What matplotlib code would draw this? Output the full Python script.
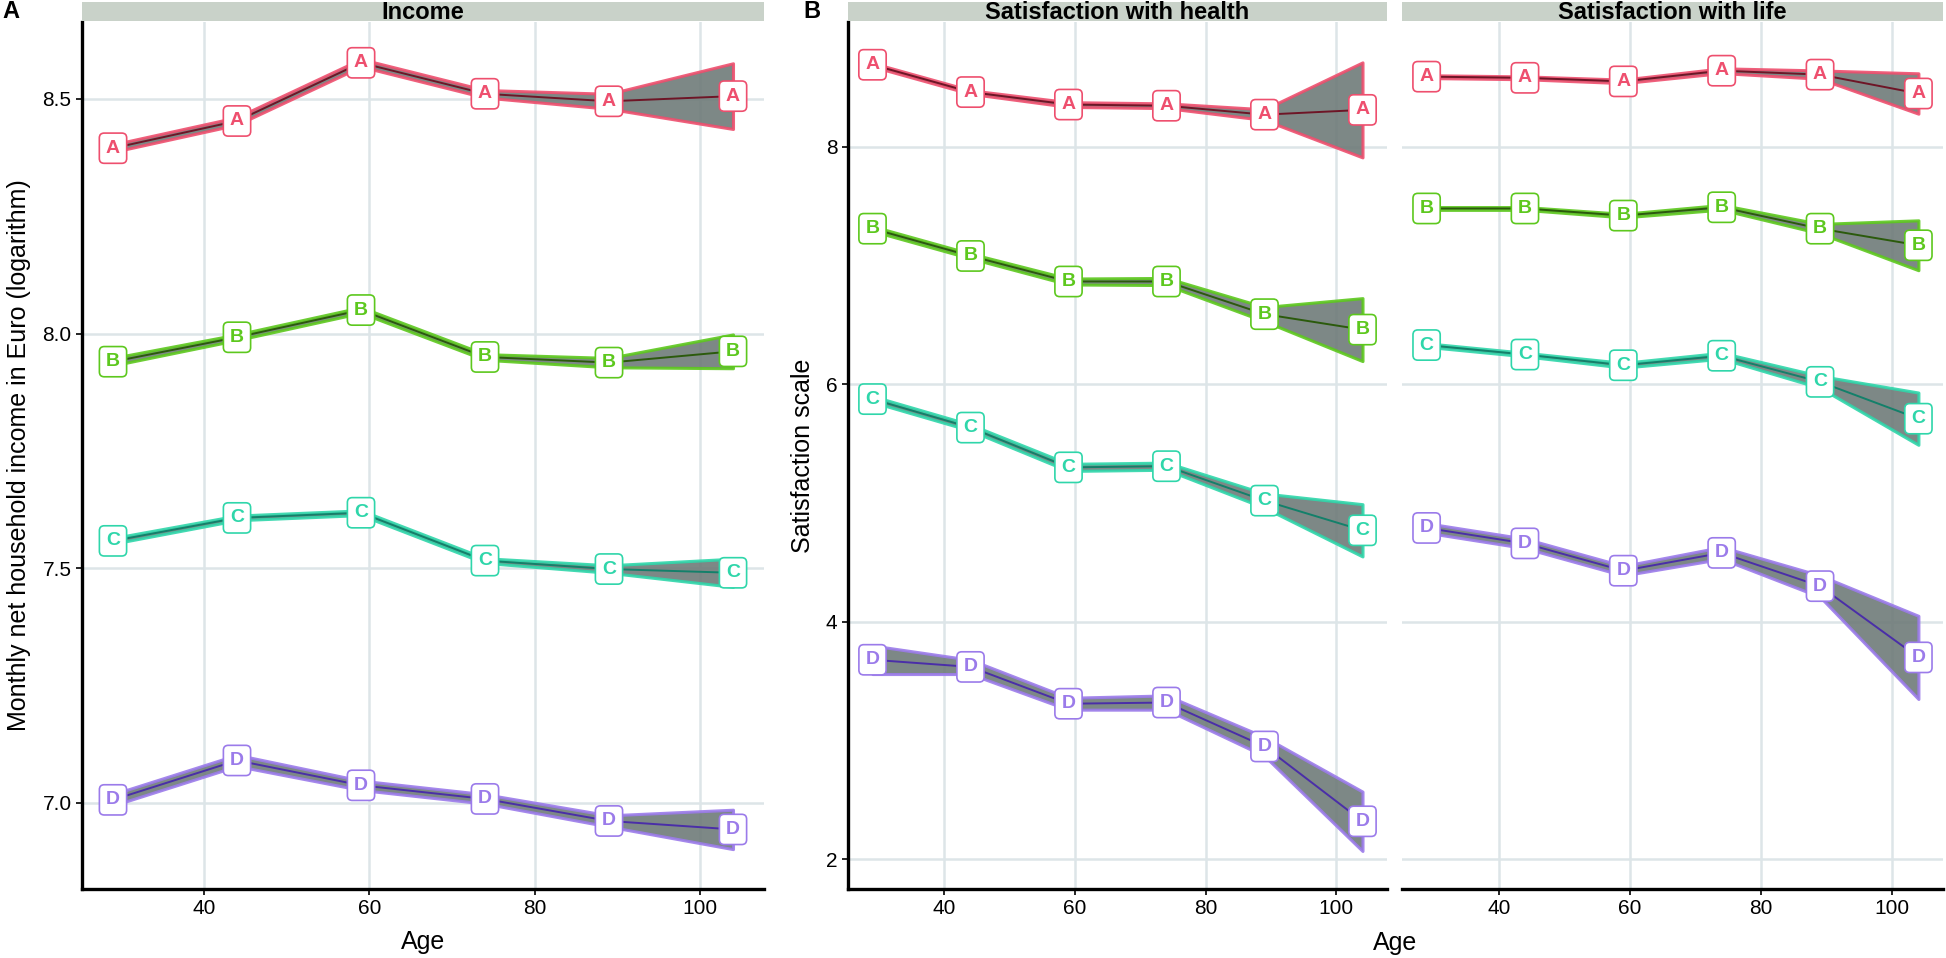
import matplotlib
matplotlib.use("Agg")
import matplotlib.pyplot as plt
from matplotlib.patches import Rectangle

plt.rcParams['font.family'] = ['Liberation Sans Narrow', 'Liberation Sans', 'DejaVu Sans']

# ---------------- data ----------------
ages = [29, 44, 59, 74, 89, 104]
groups = ["A", "B", "C", "D"]

# Income (log)
inc_A = [8.395, 8.453, 8.577, 8.511, 8.495, 8.506]
inc_B = [7.940, 7.992, 8.050, 7.950, 7.938, 7.962]
inc_C = [7.558, 7.607, 7.618, 7.516, 7.498, 7.490]
inc_D = [7.006, 7.090, 7.037, 7.008, 6.961, 6.943]
inc_A_ci = [0.008, 0.008, 0.008, 0.008, 0.016, 0.070]
inc_B_ci = [0.008, 0.006, 0.006, 0.006, 0.010, 0.036]
inc_C_ci = [0.006, 0.005, 0.005, 0.005, 0.008, 0.030]
inc_D_ci = [0.012, 0.012, 0.010, 0.010, 0.012, 0.042]

# Satisfaction with health
hea_A = [8.69, 8.46, 8.355, 8.345, 8.27, 8.31]
hea_B = [7.31, 7.08, 6.865, 6.865, 6.59, 6.46]
hea_C = [5.875, 5.635, 5.30, 5.31, 5.02, 4.77]
hea_D = [3.68, 3.62, 3.31, 3.32, 2.95, 2.32]
hea_A_ci = [0.015, 0.015, 0.020, 0.020, 0.045, 0.40]
hea_B_ci = [0.020, 0.020, 0.025, 0.030, 0.060, 0.265]
hea_C_ci = [0.025, 0.025, 0.030, 0.030, 0.060, 0.22]
hea_D_ci = [0.12, 0.06, 0.05, 0.06, 0.08, 0.25]

# Satisfaction with life
lif_A = [8.59, 8.58, 8.55, 8.64, 8.607, 8.448]
lif_B = [7.48, 7.48, 7.42, 7.49, 7.31, 7.17]
lif_C = [6.33, 6.25, 6.16, 6.24, 6.02, 5.71]
lif_D = [4.79, 4.66, 4.43, 4.58, 4.30, 3.70]
lif_A_ci = [0.012, 0.012, 0.015, 0.020, 0.035, 0.17]
lif_B_ci = [0.012, 0.012, 0.015, 0.020, 0.040, 0.21]
lif_C_ci = [0.015, 0.015, 0.020, 0.025, 0.050, 0.22]
lif_D_ci = [0.040, 0.040, 0.040, 0.050, 0.090, 0.35]

panel_titles = ["Income", "Satisfaction with health", "Satisfaction with life"]
x_ticks = [40, 60, 80, 100]
inc_ticks = [7.0, 7.5, 8.0, 8.5]
sat_ticks = [2, 4, 6, 8]

colors = {"A": "#EE4F6E", "B": "#5DC81E", "C": "#2FD6AA", "D": "#9B7BEA"}
line_colors = {"A": "#6E1526", "B": "#2B5A0C", "C": "#13806A", "D": "#4A2EA8"}

panels = [
    (inc_A, inc_B, inc_C, inc_D, inc_A_ci, inc_B_ci, inc_C_ci, inc_D_ci),
    (hea_A, hea_B, hea_C, hea_D, hea_A_ci, hea_B_ci, hea_C_ci, hea_D_ci),
    (lif_A, lif_B, lif_C, lif_D, lif_A_ci, lif_B_ci, lif_C_ci, lif_D_ci),
]

# ---------------- layout ----------------
W, H = 1946, 958
fig = plt.figure(figsize=(W / 100, H / 100), dpi=100)
fig.patch.set_facecolor("white")

bottom = 1 - 889 / H
top = 1 - 22 / H
strip_h = 19 / H
boxes = [(82, 764), (848, 1387), (1402, 1943)]

axes = []
for i, (l, r) in enumerate(boxes):
    ax = fig.add_axes([l / W, bottom, (r - l) / W, top - bottom])
    axes.append(ax)
    # strip
    sax = fig.add_axes([l / W, top + 1.5 / H, (r - l) / W, strip_h])
    sax.set_xticks([]); sax.set_yticks([])
    for s in sax.spines.values():
        s.set_visible(False)
    sax.add_patch(Rectangle((0, 0), 1, 1, transform=sax.transAxes,
                            facecolor="#C9D2C9", edgecolor="none"))
    sax.text(0.5, 0.42, panel_titles[i], ha="center", va="center",
             fontsize=17, fontweight="bold", color="black",
             transform=sax.transAxes)

for i, ax in enumerate(axes):
    means = panels[i][:4]
    cis = panels[i][4:]
    for g, m, c in zip(groups, means, cis):
        lo = [a - b for a, b in zip(m, c)]
        hi = [a + b for a, b in zip(m, c)]
        ax.fill_between(ages, lo, hi, facecolor="#6F7B79", alpha=0.9,
                        edgecolor=colors[g], linewidth=2.2, zorder=2)
        ax.plot(ages, m, color=line_colors[g], linewidth=1.4, zorder=3)
        for x, y in zip(ages, m):
            ax.text(x, y, g, ha="center", va="center", fontsize=14,
                    fontweight="bold", color=colors[g], zorder=5,
                    bbox=dict(boxstyle="round,pad=0.34,rounding_size=0.25",
                              facecolor="white", edgecolor=colors[g],
                              linewidth=1.2))
    ax.set_xlim(25.25, 107.75)
    ax.set_xticks(x_ticks)
    ax.grid(True, color="#DDE5E8", linewidth=1.8, zorder=0)
    ax.set_axisbelow(True)
    for s in ["top", "right"]:
        ax.spines[s].set_visible(False)
    ax.spines["bottom"].set_linewidth(2.4)
    ax.spines["left"].set_linewidth(2.4)
    ax.tick_params(axis="both", labelsize=15, length=4, width=1.2,
                   colors="black")
    if i == 0:
        ax.set_ylim(6.816, 8.664)
        ax.set_yticks(inc_ticks)
        ax.set_yticklabels([f"{v:.1f}" for v in inc_ticks])
        ax.set_ylabel("Monthly net household income in Euro (logarithm)",
                      fontsize=18, labelpad=8)
        ax.set_xlabel("Age", fontsize=18, labelpad=8)
    else:
        ax.set_ylim(1.75, 9.05)
        ax.set_yticks(sat_ticks)
        if i == 1:
            ax.set_ylabel("Satisfaction scale", fontsize=18, labelpad=8)
        else:
            ax.spines["left"].set_visible(False)
            ax.tick_params(axis="y", length=0, labelleft=False)

fig.text((848 + 1943) / 2 / W, 1 - 943 / H, "Age", ha="center",
         va="center", fontsize=18)
fig.text(2 / W, 1 - 12 / H, "A", ha="left", va="center", fontsize=17,
         fontweight="bold")
fig.text(803 / W, 1 - 12 / H, "B", ha="left", va="center", fontsize=17,
         fontweight="bold")

fig.savefig("out.png", dpi=100)
